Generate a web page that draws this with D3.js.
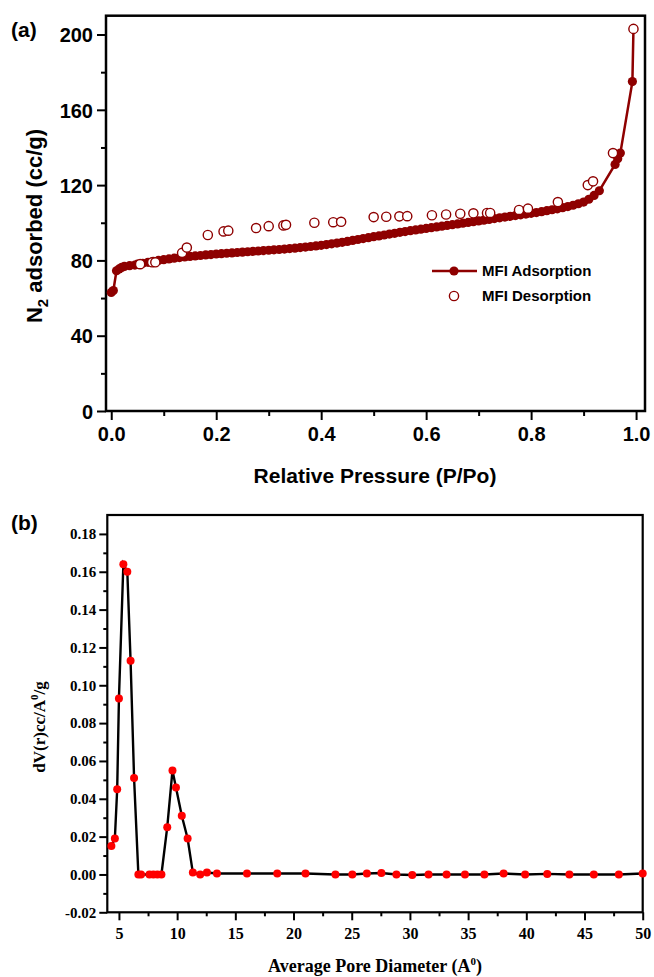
<!DOCTYPE html>
<html>
<head>
<meta charset="utf-8">
<script src="https://cdn.jsdelivr.net/npm/d3@7"></script>
<style>
  body { margin: 0; background: #fff; }
  .sans text, text.sans { font-family: "Liberation Sans", Arial, sans-serif; font-weight: bold; }
  .serif text, text.serif { font-family: "Liberation Serif", "Times New Roman", serif; font-weight: bold; }
</style>
</head>
<body>
<script>
// ---- panel (a): N2 isotherm ----
var adsP = [0, 0.004, 0.01, 0.015, 0.02, 0.025, 0.035, 0.045, 0.05, 0.06, 0.07, 0.08, 0.09, 0.1,
  0.11, 0.12, 0.13, 0.14, 0.15, 0.16, 0.17, 0.18, 0.19, 0.2, 0.21, 0.22, 0.23, 0.24, 0.25, 0.26,
  0.27, 0.28, 0.29, 0.3, 0.31, 0.32, 0.33, 0.34, 0.35, 0.36, 0.37, 0.38, 0.39, 0.4, 0.41, 0.42,
  0.43, 0.44, 0.45, 0.46, 0.47, 0.48, 0.49, 0.5, 0.51, 0.52, 0.53, 0.54, 0.55, 0.56, 0.57, 0.58,
  0.59, 0.6, 0.61, 0.62, 0.63, 0.64, 0.65, 0.66, 0.67, 0.68, 0.69, 0.7, 0.71, 0.72, 0.73, 0.74,
  0.75, 0.76, 0.77, 0.78, 0.79, 0.8, 0.81, 0.82, 0.83, 0.84, 0.85, 0.86, 0.87, 0.88, 0.89, 0.9,
  0.91, 0.92, 0.93, 0.96, 0.965, 0.97, 0.993, 0.995];
var adsV = [63, 64, 74.5, 75.5, 76.3, 76.8, 77.2, 77.5, 78, 78.5, 79, 79.5, 80, 80.4,
  80.8, 81.2, 81.5, 81.8, 82.1, 82.4, 82.6, 82.9, 83.1, 83.4, 83.6, 83.8, 84, 84.2, 84.4, 84.6,
  84.8, 85, 85.2, 85.4, 85.6, 85.8, 86, 86.3, 86.5, 86.8, 87.1, 87.4, 87.7, 88, 88.4, 88.8,
  89.2, 89.6, 90.1, 90.6, 91.1, 91.6, 92.1, 92.6, 93, 93.5, 94, 94.4, 94.9, 95.3, 95.8, 96.2,
  96.6, 97, 97.4, 97.8, 98.2, 98.6, 99, 99.4, 99.8, 100.2, 100.6, 101, 101.4, 101.8, 102.2, 102.6,
  103, 103.4, 103.8, 104.2, 104.6, 105, 105.4, 105.9, 106.4, 106.9, 107.4, 108, 108.6, 109.3, 110.1, 111,
  112.5, 114.5, 117, 131, 134, 137, 175, 203];
var desP = [0.055, 0.078, 0.084, 0.135, 0.144, 0.184, 0.214, 0.223, 0.276, 0.3, 0.328, 0.333,
  0.387, 0.423, 0.438, 0.5, 0.524, 0.549, 0.564, 0.611, 0.638, 0.665, 0.69, 0.716, 0.722,
  0.777, 0.794, 0.851, 0.908, 0.918, 0.956, 0.995];
var desV = [78, 79, 79, 84, 86.8, 93.5, 95.4, 95.8, 97.2, 98.2, 98.6, 98.9,
  100, 100.3, 100.5, 103, 103.2, 103.4, 103.5, 104, 104.4, 104.8, 105, 105.2, 105.2,
  106.8, 107.5, 111, 120, 122, 137, 203];
var aXTicks = [0, 0.2, 0.4, 0.6, 0.8, 1.0];
var aXMinor = [0.1, 0.3, 0.5, 0.7, 0.9];
var aYTicks = [0, 40, 80, 120, 160, 200];
var aYMinor = [20, 60, 100, 140, 180];
var seriesNames = ["MFI Adsorption", "MFI Desorption"];

// ---- panel (b): pore size distribution ----
var poreD = [4.35, 4.65, 4.85, 5.0, 5.38, 5.72, 6.0, 6.3, 6.67, 6.9, 7.62, 7.96, 8.3, 8.65,
  9.15, 9.6, 9.9, 10.4, 10.9, 11.35, 11.98, 12.56, 13.42, 16.0, 18.6, 21.03, 23.6, 25.05,
  26.3, 27.55, 28.84, 30.2, 31.6, 33.15, 34.73, 36.4, 38.05, 39.9, 41.8, 43.7, 45.8, 47.95, 50.0];
var poreV = [0.015, 0.019, 0.045, 0.093, 0.164, 0.160, 0.113, 0.051, 0, 0, 0, 0, 0, 0,
  0.025, 0.055, 0.046, 0.031, 0.019, 0.001, 0.0, 0.001, 0.0005, 0.0005, 0.0005, 0.0005, 0, 0,
  0.0005, 0.0008, 0, -0.0003, 0, 0, 0, 0, 0.0005, 0, 0.0003, 0, 0, 0, 0.0005];
var bXTicks = [5, 10, 15, 20, 25, 30, 35, 40, 45, 50];
var bXMinor = [7.5, 12.5, 17.5, 22.5, 27.5, 32.5, 37.5, 42.5, 47.5];
var bYTicks = [-0.02, 0, 0.02, 0.04, 0.06, 0.08, 0.10, 0.12, 0.14, 0.16, 0.18];
var bYMinor = [-0.01, 0.01, 0.03, 0.05, 0.07, 0.09, 0.11, 0.13, 0.15, 0.17];

var red = "#8e0000";

var svg = d3.select("body").append("svg")
  .attr("width", 654).attr("height", 977);

// ================= panel (a) =================
var ax = d3.scaleLinear().domain([-0.01, 1.017]).range([106, 645]),
    ay = d3.scaleLinear().domain([0, 210]).range([411, 15.7]);

var ga = svg.append("g").attr("class", "sans");

function styleAxis(g, w) {
  g.select(".domain").remove();
  g.selectAll(".tick line").attr("stroke", "#000").attr("stroke-width", w);
  g.selectAll(".tick text").attr("fill", "#000");
}

ga.append("g").attr("transform", "translate(0,411)")
  .call(d3.axisBottom(ax).tickValues(aXTicks).tickSize(9).tickPadding(7).tickSizeOuter(0)
    .tickFormat(d3.format(".1f")))
  .call(styleAxis, 2)
  .selectAll("text").style("font-size", "20px");
ga.append("g").attr("transform", "translate(0,411)")
  .call(d3.axisBottom(ax).tickValues(aXMinor).tickSize(5).tickFormat(""))
  .call(styleAxis, 2);
ga.append("g").attr("transform", "translate(106,0)")
  .call(d3.axisLeft(ay).tickValues(aYTicks).tickSize(9).tickPadding(4).tickSizeOuter(0))
  .call(styleAxis, 2)
  .selectAll("text").style("font-size", "20px").attr("dy", "0.36em");
ga.append("g").attr("transform", "translate(106,0)")
  .call(d3.axisLeft(ay).tickValues(aYMinor).tickSize(5).tickFormat(""))
  .call(styleAxis, 2);

ga.append("rect")
  .attr("x", 106).attr("y", 15.7).attr("width", 539).attr("height", 395.3)
  .attr("fill", "none").attr("stroke", "#000").attr("stroke-width", 2.5);

var adsData = adsP.map(function(p, i) { return [p, adsV[i]]; }),
    desData = desP.map(function(p, i) { return [p, desV[i]]; });

ga.append("path")
  .datum(adsData)
  .attr("fill", "none").attr("stroke", red).attr("stroke-width", 2.5)
  .attr("d", d3.line().x(function(d) { return ax(d[0]); }).y(function(d) { return ay(d[1]); }));

ga.selectAll("circle.ads")
  .data(adsData)
  .enter().append("circle")
    .attr("class", "ads")
    .attr("cx", function(d) { return ax(d[0]); })
    .attr("cy", function(d) { return ay(d[1]); })
    .attr("r", 4.6)
    .attr("fill", red);

ga.selectAll("circle.des")
  .data(desData)
  .enter().append("circle")
    .attr("class", "des")
    .attr("cx", function(d) { return ax(d[0]); })
    .attr("cy", function(d) { return ay(d[1]); })
    .attr("r", 4.6)
    .attr("fill", "#fff").attr("stroke", red).attr("stroke-width", 1.4);

// legend
var lg = ga.append("g");
lg.append("line").attr("x1", 432).attr("x2", 477).attr("y1", 271).attr("y2", 271)
  .attr("stroke", red).attr("stroke-width", 2.5);
lg.append("circle").attr("cx", 454).attr("cy", 271).attr("r", 4.6).attr("fill", red);
lg.append("circle").attr("cx", 454).attr("cy", 296).attr("r", 4.6)
  .attr("fill", "#fff").attr("stroke", red).attr("stroke-width", 1.4);
lg.selectAll("text").data(seriesNames).enter().append("text")
  .attr("x", 482).attr("y", function(d, i) { return 276 + i * 25; })
  .style("font-size", "15px").text(function(d) { return d; });

// titles
ga.append("text").attr("x", 375).attr("y", 483).attr("text-anchor", "middle")
  .style("font-size", "21px").text("Relative Pressure (P/Po)");
var yt = ga.append("text").attr("transform", "translate(42,226)rotate(-90)")
  .attr("text-anchor", "middle").style("font-size", "22px");
yt.append("tspan").text("N");
yt.append("tspan").attr("dy", 6).style("font-size", "15px").text("2");
yt.append("tspan").attr("dy", -6).text(" adsorbed (cc/g)");
ga.append("text").attr("x", 11).attr("y", 37).style("font-size", "21px").text("(a)");

// ================= panel (b) =================
var bx = d3.scaleLinear().domain([4, 50]).range([107.3, 642.7]),
    by = d3.scaleLinear().domain([-0.02, 0.19]).range([912.3, 515]);

var gb = svg.append("g").attr("class", "serif");

gb.append("g").attr("transform", "translate(0,912.3)")
  .call(d3.axisBottom(bx).tickValues(bXTicks).tickSize(8).tickPadding(7).tickSizeOuter(0))
  .call(styleAxis, 2)
  .selectAll("text").style("font-size", "16px");
gb.append("g").attr("transform", "translate(0,912.3)")
  .call(d3.axisBottom(bx).tickValues(bXMinor).tickSize(4).tickFormat(""))
  .call(styleAxis, 2);
gb.append("g").attr("transform", "translate(107.3,0)")
  .call(d3.axisLeft(by).tickValues(bYTicks).tickSize(8).tickPadding(3).tickSizeOuter(0)
    .tickFormat(function(d) { return d.toFixed(2); }))
  .call(styleAxis, 2)
  .selectAll("text").style("font-size", "15px");
gb.append("g").attr("transform", "translate(107.3,0)")
  .call(d3.axisLeft(by).tickValues(bYMinor).tickSize(4).tickFormat(""))
  .call(styleAxis, 2);

gb.append("rect")
  .attr("x", 107.3).attr("y", 515).attr("width", 535.4).attr("height", 397.3)
  .attr("fill", "none").attr("stroke", "#000").attr("stroke-width", 2.2);

var poreData = poreD.map(function(d, i) { return [d, poreV[i]]; });

gb.append("path")
  .datum(poreData)
  .attr("fill", "none").attr("stroke", "#000").attr("stroke-width", 2.4)
  .attr("d", d3.line().x(function(d) { return bx(d[0]); }).y(function(d) { return by(d[1]); }));

gb.selectAll("circle.pore")
  .data(poreData)
  .enter().append("circle")
    .attr("class", "pore")
    .attr("cx", function(d) { return bx(d[0]); })
    .attr("cy", function(d) { return by(d[1]); })
    .attr("r", 4)
    .attr("fill", "#ff0000");

var xt = gb.append("text").attr("x", 375).attr("y", 972).attr("text-anchor", "middle")
  .style("font-size", "18px");
xt.append("tspan").text("Average Pore Diameter (A");
xt.append("tspan").attr("dy", -7).style("font-size", "11px").text("0");
xt.append("tspan").attr("dy", 7).text(")");

var yb = gb.append("text").attr("transform", "translate(45,727)rotate(-90)")
  .attr("text-anchor", "middle").style("font-size", "17px");
yb.append("tspan").text("dV(r)cc/A");
yb.append("tspan").attr("dy", -7).style("font-size", "11px").text("0");
yb.append("tspan").attr("dy", 7).text("/g");

svg.append("text").attr("class", "sans").attr("x", 11).attr("y", 530)
  .style("font-size", "21px").text("(b)");
</script>
</body>
</html>
